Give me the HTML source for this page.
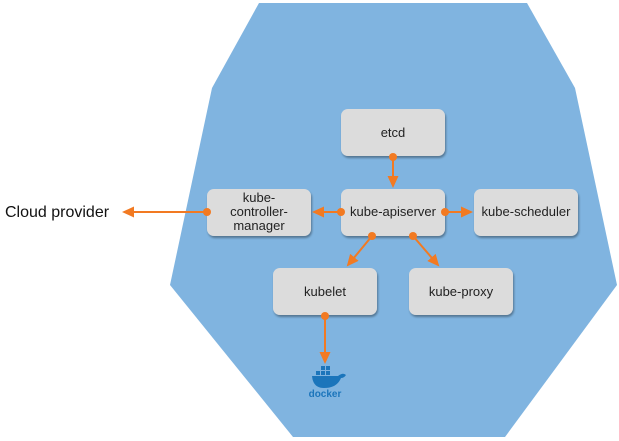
<!DOCTYPE html>
<html><head><style>
body{margin:0;background:#fff;}
svg{display:block;font-family:"Liberation Sans",sans-serif;}
</style></head><body>
<svg width="619" height="441" viewBox="0 0 619 441">
<defs>
<marker id="a" markerWidth="12" markerHeight="12" refX="10" refY="5.5" orient="auto" markerUnits="userSpaceOnUse">
<path d="M0,0 L12,5.5 L0,11 z" fill="#f27a22"/></marker>
<filter id="s" x="-10%" y="-10%" width="130%" height="140%"><feDropShadow dx="1" dy="2" stdDeviation="1" flood-opacity="0.35"/></filter>
</defs>
<polygon points="259,3 527,3 575,88 617,285 505,437 293,437 170,285 212,88" fill="#80b4e0"/>
<g fill="#dcdcdc" filter="url(#s)">
<rect x="341" y="109" width="104" height="47" rx="7"/>
<rect x="207" y="189" width="104" height="47" rx="7"/>
<rect x="341" y="189" width="104" height="47" rx="7"/>
<rect x="474" y="189" width="104" height="47" rx="7"/>
<rect x="273" y="268" width="104" height="47" rx="7"/>
<rect x="409" y="268" width="104" height="47" rx="7"/>
</g>
<g font-size="13" fill="#222" text-anchor="middle">
<text x="393" y="137">etcd</text>
<text x="259" y="202">kube-</text>
<text x="259" y="216">controller-</text>
<text x="259" y="230">manager</text>
<text x="393" y="216">kube-apiserver</text>
<text x="526" y="216">kube-scheduler</text>
<text x="325" y="296">kubelet</text>
<text x="461" y="296">kube-proxy</text>
</g>
<text x="5" y="217" font-size="16" fill="#111">Cloud provider</text>
<g stroke="#f27a22" stroke-width="2" fill="none" marker-end="url(#a)">
<line x1="393" y1="157" x2="393" y2="186"/>
<line x1="341" y1="212" x2="314" y2="212"/>
<line x1="445" y1="212" x2="471" y2="212"/>
<line x1="372" y1="236" x2="348" y2="265"/>
<line x1="413" y1="236" x2="438" y2="265"/>
<line x1="325" y1="316" x2="325" y2="362"/>
<line x1="207" y1="212" x2="124" y2="212"/>
</g>
<g fill="#f27a22">
<circle cx="393" cy="157" r="4"/><circle cx="341" cy="212" r="4"/><circle cx="445" cy="212" r="4"/>
<circle cx="372" cy="236" r="4"/><circle cx="413" cy="236" r="4"/><circle cx="325" cy="316" r="4"/>
<circle cx="207" cy="212" r="4"/>
</g>
<g fill="#1b75bb">
<path d="M312,376 h26 q5,-4 8,-1 q-2,3 -5,3 q-4,10 -17,10 q-11,0 -12,-12 z"/>
<rect x="316" y="371" width="4" height="4"/><rect x="321" y="371" width="4" height="4"/><rect x="326" y="371" width="4" height="4"/>
<rect x="321" y="366" width="4" height="4"/><rect x="326" y="366" width="4" height="4"/>
<text x="325" y="397" font-size="10" text-anchor="middle" font-weight="bold">docker</text>
</g>
</svg>
</body></html>
